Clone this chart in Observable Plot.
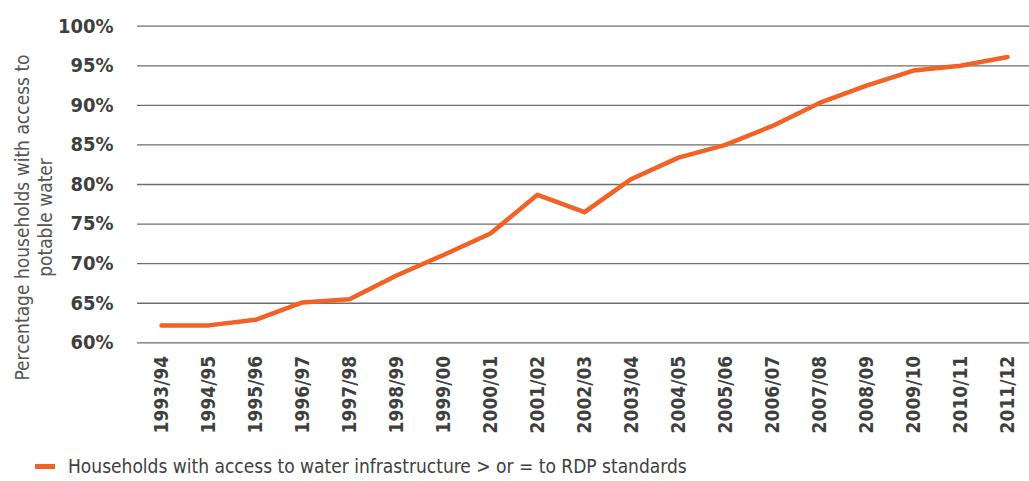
<!DOCTYPE html>
<html><head><meta charset="utf-8">
<script src="https://cdn.jsdelivr.net/npm/d3@7"></script>
<script src="https://cdn.jsdelivr.net/npm/@observablehq/plot@0.6"></script>
<style>
body{margin:0;background:#fff;font-family:"DejaVu Sans Condensed","Liberation Sans Narrow",sans-serif;}
#wrap{position:relative;width:1029px;height:481px;}
#legend{position:absolute;left:35px;top:455px;display:flex;align-items:center;font-size:19px;color:#404040;white-space:nowrap;}
#legend .sw{display:inline-block;width:20px;height:5px;background:#f26125;margin-right:13px;}
</style></head><body><div id="wrap"><div id="chart"></div><div id="legend"></div></div>
<script>
const years = ["1993/94","1994/95","1995/96","1996/97","1997/98","1998/99","1999/00","2000/01","2001/02","2002/03","2003/04","2004/05","2005/06","2006/07","2007/08","2008/09","2009/10","2010/11","2011/12"];
const values = [62.2,62.2,62.9,65.1,65.5,68.5,71.1,73.8,78.7,76.5,80.7,83.4,85.0,87.4,90.3,92.5,94.4,95.0,96.1];
const yTicks = [60,65,70,75,80,85,90,95,100];
const seriesName = "Households with access to water infrastructure > or = to RDP standards";
const yTitle = "Percentage households with access to\npotable water";
const lineColor = "#f26125";

const data = years.map((year, i) => ({year, value: values[i]}));
const font = '"DejaVu Sans Condensed","Liberation Sans Narrow",sans-serif';

const chart = Plot.plot({
  width: 1029, height: 445,
  marginLeft: 137, marginRight: 0, marginTop: 25.7, marginBottom: 102.7,
  style: {fontFamily: font, background: "white", color: "#3f3f3f", overflow: "visible"},
  x: {type: "point", domain: years, range: [159, 1008], padding: 0, label: null},
  y: {domain: [60, 100], label: null},
  marks: [
    Plot.ruleY(yTicks, {stroke: "#6e6e6e", strokeWidth: 1.3}),
    Plot.axisY({ticks: yTicks, tickSize: 0, tickPadding: 24, tickFormat: d => d + "%", fontSize: 20, fontWeight: "bold", label: null}),
    Plot.axisX({tickSize: 0, tickPadding: 13, tickRotate: -90, fontSize: 19, fontWeight: "bold", label: null}),
    Plot.line(data, {x: "year", y: "value", stroke: lineColor, strokeWidth: 4.5}),
    Plot.text([yTitle], {text: d => d, frameAnchor: "left", textAnchor: "middle", rotate: -90, dx: -104, dy: 33, fontSize: 19, lineHeight: 1.2, fill: "#555"})
  ]
});
document.getElementById("chart").append(chart);
const lg = document.getElementById("legend");
lg.innerHTML = '<span class="sw"></span>';
lg.append(document.createTextNode(seriesName));
</script></body></html>
